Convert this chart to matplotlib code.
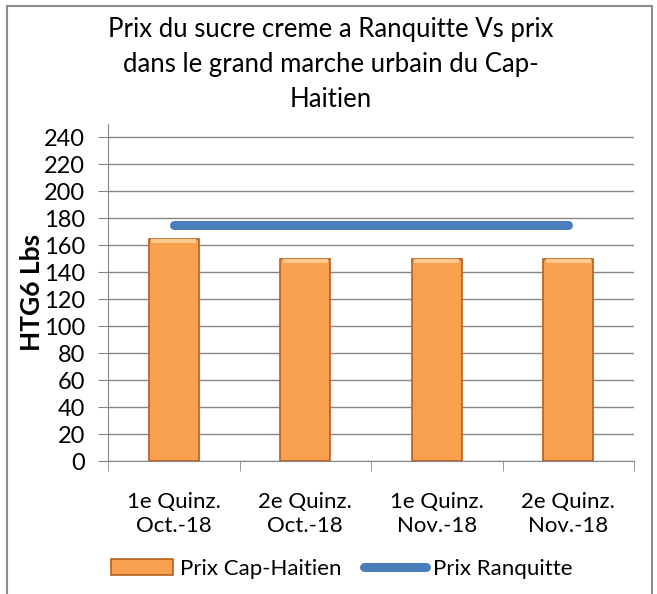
import numpy as np
import matplotlib
matplotlib.use('Agg')
from matplotlib import pyplot as plt
from matplotlib.patches import Rectangle

# %%
# =========================== DATA =====================================

categories = ['1e Quinz.\nOct.-18', '2e Quinz.\nOct.-18',
              '1e Quinz.\nNov.-18', '2e Quinz.\nNov.-18']
prix_cap_haitien = [165, 150, 150, 150]
prix_ranquitte = [175, 175, 175, 175]
y_ticks = list(range(0, 241, 20))

# %%
# =========================== PLOT =====================================

plt.rcParams['font.family'] = ['Lato', 'DejaVu Sans']

fig = plt.figure(figsize=(6.57, 5.94), dpi=100)
# outer chart border (gray frame like the spreadsheet chart area)
fig.patches.append(Rectangle((7 / 657, -0.05), 645 / 657, 1.04,
                             transform=fig.transFigure, fill=False,
                             edgecolor='#8c8c8c', linewidth=1.5))

ax = fig.add_axes([108 / 657, 1 - 461 / 594, 526 / 657, 337 / 594])

x = np.arange(len(categories))
bars = ax.bar(x, prix_cap_haitien, width=0.38, color='#F9A04E',
              edgecolor='#B4601C', linewidth=1.2, zorder=3,
              label='Prix Cap-Haitien')
# light bevel on top of each bar
for b in bars:
    ax.add_patch(Rectangle((b.get_x() + 0.02, b.get_height() - 3),
                           b.get_width() - 0.04, 2.5, color='#FCC98F',
                           linewidth=0, zorder=4))
line, = ax.plot(x, prix_ranquitte, color='#4A7EBB', linewidth=6.5,
                solid_capstyle='round', zorder=5, label='Prix Ranquitte')

ax.set_xlim(-0.5, len(categories) - 0.5)
ax.set_ylim(0, 250)
ax.set_yticks(y_ticks)
ax.tick_params(axis='y', labelsize=17, length=7.5, color='#868686',
               pad=9)
ax.grid(axis='y', color='#868686', linewidth=1, zorder=0)

ax.set_xticks(x)
ax.set_xticklabels(categories, fontsize=16, linespacing=1.25)
ax.tick_params(axis='x', length=0, pad=22)
ax.set_xticks(np.arange(-0.5, len(categories)), minor=True)
ax.tick_params(axis='x', which='minor', length=7, color='#868686')

for side in ['top', 'right']:
    ax.spines[side].set_visible(False)
ax.spines['left'].set_color('#868686')
ax.spines['bottom'].set_color('#868686')

ax.set_ylabel('HTG6 Lbs', fontsize=19, fontweight='bold', labelpad=0)

fig.text(0.503, 1 - 17 / 594,
         'Prix du sucre creme a Ranquitte Vs prix\n'
         'dans le grand marche urbain du Cap-\nHaitien',
         ha='center', va='top', fontsize=18.5, linespacing=1.5)

fig.legend(handles=[bars, line], loc='center',
           bbox_to_anchor=(0.52, 1 - 569 / 594), ncol=2,
           frameon=False, fontsize=16, handlelength=2.8,
           handletextpad=0.3, columnspacing=1.0)

plt.savefig('out.png', dpi=100)
